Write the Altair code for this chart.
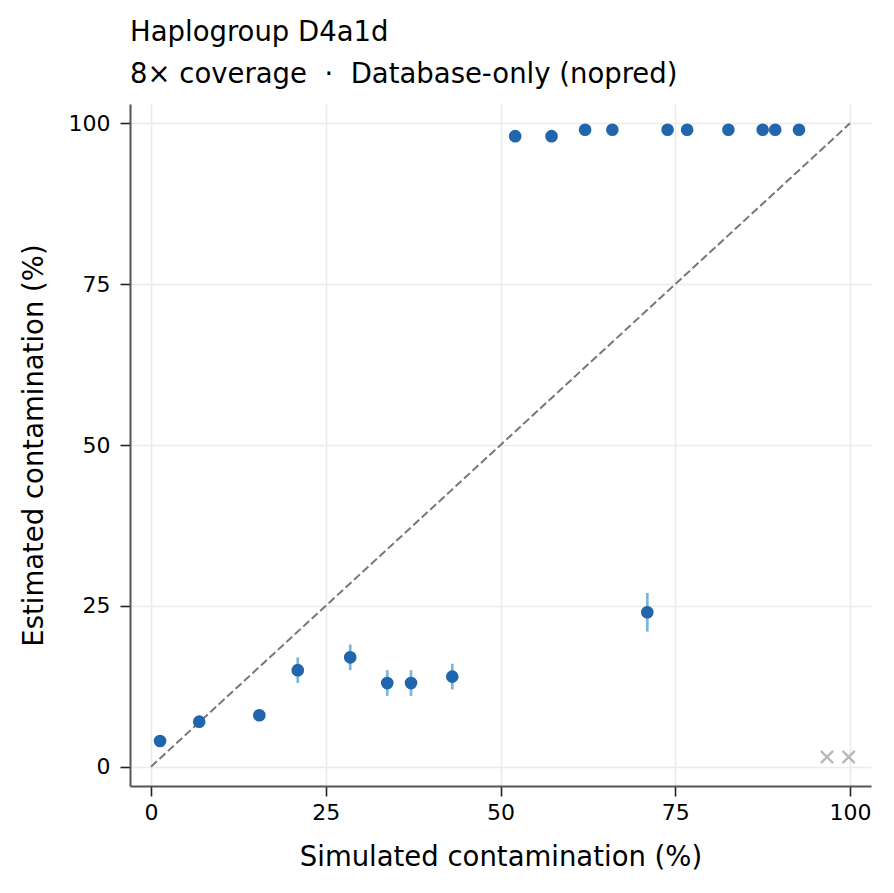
import altair as alt
import pandas as pd

# Simulated vs estimated contamination (%)
sim_pct = [1.3, 6.9, 15.5, 21.0, 28.5, 33.8, 37.2, 43.1, 52.1, 57.3, 62.1, 66.0,
           71.0, 73.9, 76.7, 82.6, 87.5, 89.3, 92.7]
est_pct = [4, 7, 8, 15, 17, 13, 13, 14, 98, 98, 99, 99, 24, 99, 99, 99, 99, 99, 99]
est_lo = [3.8, 6.8, 7.6, 13.0, 15.0, 11.0, 11.0, 12.0, 98, 98, 99, 99, 21.0, 99, 99, 99, 99, 99, 99]
est_hi = [4.2, 7.2, 8.4, 17.0, 19.0, 15.0, 15.0, 16.0, 98, 98, 99, 99, 27.0, 99, 99, 99, 99, 99, 99]

# Failed runs (no estimate)
fail_sim = [96.7, 99.8]
fail_y = [1.5, 1.5]

diag_x = [0, 100]
diag_y = [0, 100]

tick_vals = [0, 25, 50, 75, 100]

df = pd.DataFrame({"sim": sim_pct, "est": est_pct, "lo": est_lo, "hi": est_hi})
df_fail = pd.DataFrame({"sim": fail_sim, "est": fail_y})
df_diag = pd.DataFrame({"sim": diag_x, "est": diag_y})

xscale = alt.Scale(domain=[-3, 103], nice=False, zero=False)
yscale = alt.Scale(domain=[-3, 103], nice=False, zero=False)

xenc = alt.X("sim:Q", scale=xscale,
             axis=alt.Axis(values=tick_vals, title="Simulated contamination (%)",
                           labelPadding=6, titlePadding=20))
yenc = alt.Y("est:Q", scale=yscale,
             axis=alt.Axis(values=tick_vals, title="Estimated contamination (%)",
                           labelPadding=10, titlePadding=20))

diag = alt.Chart(df_diag).mark_line(
    color="#777777", strokeWidth=2, strokeDash=[8, 3.5]
).encode(x=xenc, y=yenc)

err = alt.Chart(df).mark_rule(
    color="#6baed6", strokeWidth=2.7, opacity=0.9
).encode(x="sim:Q", y="lo:Q", y2="hi:Q")

pts = alt.Chart(df).mark_circle(
    color="#2166ac", size=160, opacity=1
).encode(x="sim:Q", y="est:Q")

fails = alt.Chart(df_fail).mark_point(
    shape="M-1,-1L1,1M-1,1L1,-1", color="#b8b8b8", size=150,
    strokeWidth=2.3, filled=False, opacity=1
).encode(x="sim:Q", y="est:Q")

chart = alt.layer(diag, err, pts, fails).properties(
    width=741,
    height=682,
    background="white",
    padding={"left": 122, "top": 96, "right": 15, "bottom": 99},
    autosize=alt.AutoSizeParams(type="none"),
    title=alt.TitleParams(
        text="Haplogroup D4a1d",
        subtitle="8× coverage\u00a0\u00a0·\u00a0\u00a0Database-only (nopred)",
        anchor="start",
        frame="group",
        font="DejaVu Sans",
        fontSize=27.5,
        fontWeight="normal",
        color="#000000",
        subtitleFont="DejaVu Sans",
        subtitleFontSize=27.5,
        subtitleColor="#000000",
        subtitlePadding=14,
        offset=16,
    ),
).configure_view(
    stroke=None
).configure_axis(
    grid=True,
    gridColor="#ebebeb",
    gridWidth=1.6,
    domainColor="#555555",
    domainWidth=2,
    tickColor="#222222",
    tickSize=10,
    tickWidth=1.6,
    labelFont="DejaVu Sans",
    labelFontSize=22,
    labelColor="#000000",
    titleFont="DejaVu Sans",
    titleFontSize=27.5,
    titleFontWeight="normal",
    titleColor="#000000",
)

chart.save("out.html", embed_options={"renderer": "svg", "actions": False})
